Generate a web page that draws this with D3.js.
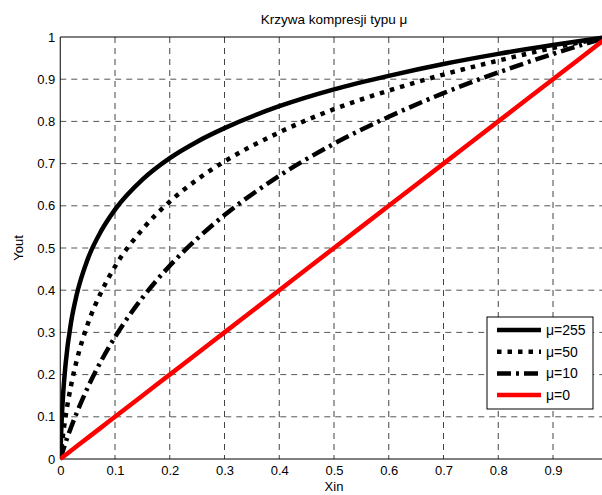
<!DOCTYPE html>
<html><head><meta charset="utf-8">
<script src="https://cdn.jsdelivr.net/npm/d3@7"></script>
<style>
body{margin:0;background:#fff;}
svg{display:block;font-family:"Liberation Sans",Arial,sans-serif;}
</style></head>
<body>
<svg id="chart" width="602" height="495"></svg>
<script>
const xs      = [0, 0.002, 0.005, 0.01, 0.02, 0.03, 0.05, 0.075, 0.1, 0.15, 0.2, 0.25, 0.3, 0.4, 0.5, 0.6, 0.7, 0.8, 0.9, 1.0];
const mu255   = [0, 0.074, 0.148, 0.228, 0.326, 0.389, 0.473, 0.541, 0.591, 0.662, 0.713, 0.752, 0.784, 0.836, 0.876, 0.908, 0.936, 0.960, 0.981, 1.0];
const mu50    = [0, 0.023, 0.057, 0.103, 0.176, 0.233, 0.319, 0.396, 0.456, 0.544, 0.610, 0.662, 0.705, 0.774, 0.829, 0.873, 0.911, 0.944, 0.974, 1.0];
const mu10    = [0, 0.008, 0.020, 0.040, 0.076, 0.109, 0.169, 0.233, 0.289, 0.382, 0.458, 0.522, 0.578, 0.671, 0.747, 0.811, 0.867, 0.916, 0.960, 1.0];
const mu0     = [0, 0.002, 0.005, 0.01, 0.02, 0.03, 0.05, 0.075, 0.1, 0.15, 0.2, 0.25, 0.3, 0.4, 0.5, 0.6, 0.7, 0.8, 0.9, 1.0];
const seriesNames = ["\u03bc=255", "\u03bc=50", "\u03bc=10", "\u03bc=0"];
const xTicks = [0, 0.1, 0.2, 0.3, 0.4, 0.5, 0.6, 0.7, 0.8, 0.9];
const yTicks = [0, 0.1, 0.2, 0.3, 0.4, 0.5, 0.6, 0.7, 0.8, 0.9, 1];
const titleText = "Krzywa kompresji typu \u03bc";
const xLabel = "Xin", yLabel = "Yout";

const svg = d3.select("#chart");
const L = 60.25, R = 607.75, T = 37, B = 459;
const x = d3.scaleLinear().domain([0,1]).range([L,R]);
const y = d3.scaleLinear().domain([0,1]).range([B,T]);

svg.append("defs").append("clipPath").attr("id","clip")
  .append("rect").attr("x",L).attr("y",T-4).attr("width",R-L+4).attr("height",B-T+8);

// grid
const g = svg.append("g");
g.selectAll(".vg").data(xTicks.slice(1)).enter().append("line")
  .attr("x1",d=>x(d)).attr("x2",d=>x(d)).attr("y1",T).attr("y2",B)
  .attr("stroke","#444").attr("stroke-width",1).attr("stroke-dasharray","6,5");
g.selectAll(".hg").data(yTicks.slice(1,-1)).enter().append("line")
  .attr("y1",d=>y(d)).attr("y2",d=>y(d)).attr("x1",L).attr("x2",602)
  .attr("stroke","#555").attr("stroke-width",1).attr("stroke-dasharray","6,5");

// axes
const xAxis = d3.axisBottom(x).tickValues(xTicks).tickSize(0).tickPadding(7).tickFormat(d3.format("~g"));
const yAxis = d3.axisLeft(y).tickValues(yTicks).tickSize(0).tickPadding(5).tickFormat(d3.format("~g"));
const xa = svg.append("g").attr("transform",`translate(0,${B})`).call(xAxis);
const ya = svg.append("g").attr("transform",`translate(${L},0)`).call(yAxis);
[xa,ya].forEach(a=>{a.select(".domain").remove();a.selectAll("text").attr("font-size",13).attr("font-family","Liberation Sans, Arial, sans-serif").attr("fill","#000");});
svg.append("line").attr("x1",L).attr("x2",602).attr("y1",B).attr("y2",B).attr("stroke","#000");
svg.append("line").attr("x1",L).attr("x2",602).attr("y1",T).attr("y2",T).attr("stroke","#000");
svg.append("line").attr("x1",L).attr("x2",L).attr("y1",T).attr("y2",B).attr("stroke","#000");

// curves
const styles = [
  {vals:mu255, color:"#000", dash:null, w:4.5},
  {vals:mu50,  color:"#000", dash:"4.5,6", w:4.5},
  {vals:mu10,  color:"#000", dash:"14,5,3,5", w:4.5},
  {vals:mu0,   color:"#ff0000", dash:null, w:4.5}
];
const line = d3.line().x(d=>x(d[0])).y(d=>y(d[1])).curve(d3.curveMonotoneX);
const cg = svg.append("g").attr("clip-path","url(#clip)");
styles.forEach(s=>{
  cg.append("path").datum(xs.map((v,i)=>[v,s.vals[i]]))
    .attr("d",line).attr("fill","none").attr("stroke",s.color)
    .attr("stroke-width",s.w).attr("stroke-dasharray",s.dash)
    .attr("stroke-linejoin","round");
});

// title & labels
svg.append("text").attr("x",334).attr("y",24).attr("text-anchor","middle")
  .attr("font-size",13.5).text(titleText);
svg.append("text").attr("x",334).attr("y",491).attr("text-anchor","middle")
  .attr("font-size",13).text(xLabel);
svg.append("text").attr("transform","translate(23,248) rotate(-90)").attr("text-anchor","middle")
  .attr("font-size",13).text(yLabel);

// legend
const lg = svg.append("g");
lg.append("rect").attr("x",487).attr("y",317).attr("width",106).attr("height",92)
  .attr("fill","#fff").attr("stroke","#000").attr("stroke-width",1);
styles.forEach((s,i)=>{
  const yy = 330 + i*21.7;
  lg.append("line").attr("x1",497).attr("x2",541).attr("y1",yy).attr("y2",yy)
    .attr("stroke",s.color).attr("stroke-width",s.w).attr("stroke-dasharray",s.dash);
  lg.append("text").attr("x",546).attr("y",yy+5).attr("font-size",14).text(seriesNames[i]);
});
</script>
</body></html>
